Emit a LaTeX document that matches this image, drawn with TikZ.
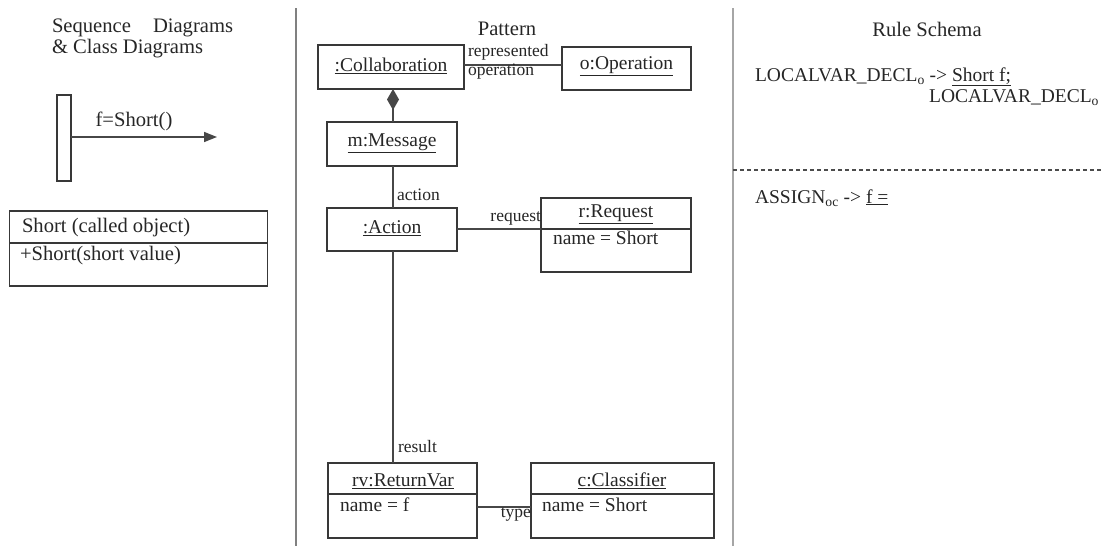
\documentclass[tikz,border=0pt]{standalone}
\usepackage{fontspec}
\setmainfont{Liberation Serif}
\usetikzlibrary{arrows.meta}
\newcommand\bodyfont{\fontsize{19.5}{22}\selectfont}
\newcommand\headfont{\fontsize{20.6}{23}\selectfont}
\newcommand\labelfont{\fontsize{17.5}{20}\selectfont}
\begin{document}
\begin{tikzpicture}[x=1pt,y=-1pt,
  every node/.style={inner sep=0pt, outer sep=0pt, text=black!85},
  box/.style={draw=black!78, line width=1.7pt, rectangle},
  conn/.style={draw=black!72, line width=1.5pt},
  txt/.style={font=\bodyfont},
  head/.style={font=\headfont},
  lbl/.style={font=\labelfont},
  divider/.style={draw=black!78, line width=1.5pt},
  panelsep/.style={draw=black!50, line width=2pt}]
\useasboundingbox (0,0) rectangle (1103,546);

% panel separators
\coordinate (s1top) at (296,8);
\coordinate (s1bot) at (296,546);
\coordinate (s2top) at (733,8);
\coordinate (s2bot) at (733,546);
\coordinate (dl) at (733,170);
\coordinate (dr) at (1103,170);
\draw[panelsep] (s1top) -- (s1bot);
\draw[panelsep, draw=black!35] (s2top) -- (s2bot);
\draw[draw=black!70, line width=1.2pt, dash pattern=on 4pt off 3pt] (dl) -- (dr);

% ---------- left panel: sequence and class diagrams ----------
\node[head, anchor=base west] (hSeq) at (52,32) {Sequence};
\node[head, anchor=base west] (hDia) at (153,32) {Diagrams};
\node[head, anchor=base west] (hCls) at (52,53) {\& Class Diagrams};

\node[box, minimum width=14pt, minimum height=86pt] (life) at (64,138) {};
\coordinate (msgEnd) at (217,137);
\draw[conn, -{Triangle[length=13pt,width=10pt]}] (life.east |- msgEnd) -- (msgEnd);
\node[head] (msgLbl) at (134,121) {f=Short()};

\node[box, minimum width=258pt, minimum height=75pt] (cls) at (138.5,248.5) {};
\draw[divider] (cls.west |- 0,243) -- (cls.east |- 0,243);
\node[head, anchor=west] (clsName) at (22,228) {Short (called object)};
\node[head, anchor=west] (clsOp) at (20,256) {+Short(short value)};

% ---------- middle panel: pattern ----------
\node[head] (hPat) at (507,29) {Pattern};

\node[box, minimum width=146pt, minimum height=44pt] (collab) at (391,67) {};
\node[txt] (collabT) at (391,66) {\underline{:Collaboration}};

\node[box, minimum width=129pt, minimum height=43pt] (oper) at (626.5,68.5) {};
\node[txt] (operT) at (626.5,66) {\underline{o:Operation}};

\node[box, minimum width=130pt, minimum height=44pt] (msg) at (392,144) {};
\node[txt] (msgT) at (392,143) {\underline{m:Message}};

\node[box, minimum width=130pt, minimum height=43pt] (act) at (392,229.5) {};
\node[txt] (actT) at (392,228) {\underline{:Action}};

\node[box, minimum width=150pt, minimum height=74pt] (req) at (616,235) {};
\draw[divider] (req.west |- 0,229) -- (req.east |- 0,229);
\node[txt] (reqT) at (616,214) {\underline{r:Request}};
\node[txt, anchor=west] (reqA) at (553,238) {name = Short};

\node[box, minimum width=149pt, minimum height=75pt] (rv) at (402.5,500.5) {};
\draw[divider] (rv.west |- 0,494) -- (rv.east |- 0,494);
\node[txt] (rvT) at (403,481) {\underline{rv:ReturnVar}};
\node[txt, anchor=west] (rvA) at (340,505) {name = f};

\node[box, minimum width=183pt, minimum height=75pt] (clf) at (622.5,500.5) {};
\draw[divider] (clf.west |- 0,494) -- (clf.east |- 0,494);
\node[txt] (clfT) at (622,481) {\underline{c:Classifier}};
\node[txt, anchor=west] (clfA) at (542,505) {name = Short};

% connectors
\coordinate (opLine) at (0,65);
\draw[conn] (collab.east |- opLine) -- (oper.west |- opLine);
\node[lbl, anchor=west] (repLbl) at (468,52) {represented};
\node[lbl, anchor=west] (opLbl) at (468,72) {operation};

\coordinate (compX) at (393,0);
\draw[conn, {Diamond[length=21pt,width=12pt]}-] (collab.south -| compX) -- (msg.north -| compX);

\draw[conn] (msg.south -| compX) -- (act.north -| compX);
\node[lbl, anchor=west] (actLbl) at (397,195) {action};

\draw[conn] (act.east |- 0,229) -- (req.west |- 0,229);
\node[lbl, anchor=east] (reqLbl) at (541,218) {request};

\draw[conn] (act.south -| compX) -- (rv.north -| compX);
\node[lbl, anchor=west] (resLbl) at (398,447) {result};

\draw[conn] (rv.east |- 0,507) -- (clf.west |- 0,507);
\node[lbl, anchor=east] (typeLbl) at (531,514) {type};

% ---------- right panel: rule schema ----------
\node[head] (hRule) at (927,29) {Rule Schema};
\node[txt, anchor=base west] (r1) at (755,81)
  {LOCALVAR\_DECL\textsubscript{o} -> \underline{Short f;}};
\node[txt, anchor=base east] (r2) at (1099,102)
  {LOCALVAR\_DECL\textsubscript{o}};
\node[txt, anchor=base west] (r3) at (755,203)
  {ASSIGN\textsubscript{oc} -> \underline{f =}};
\end{tikzpicture}
\end{document}
